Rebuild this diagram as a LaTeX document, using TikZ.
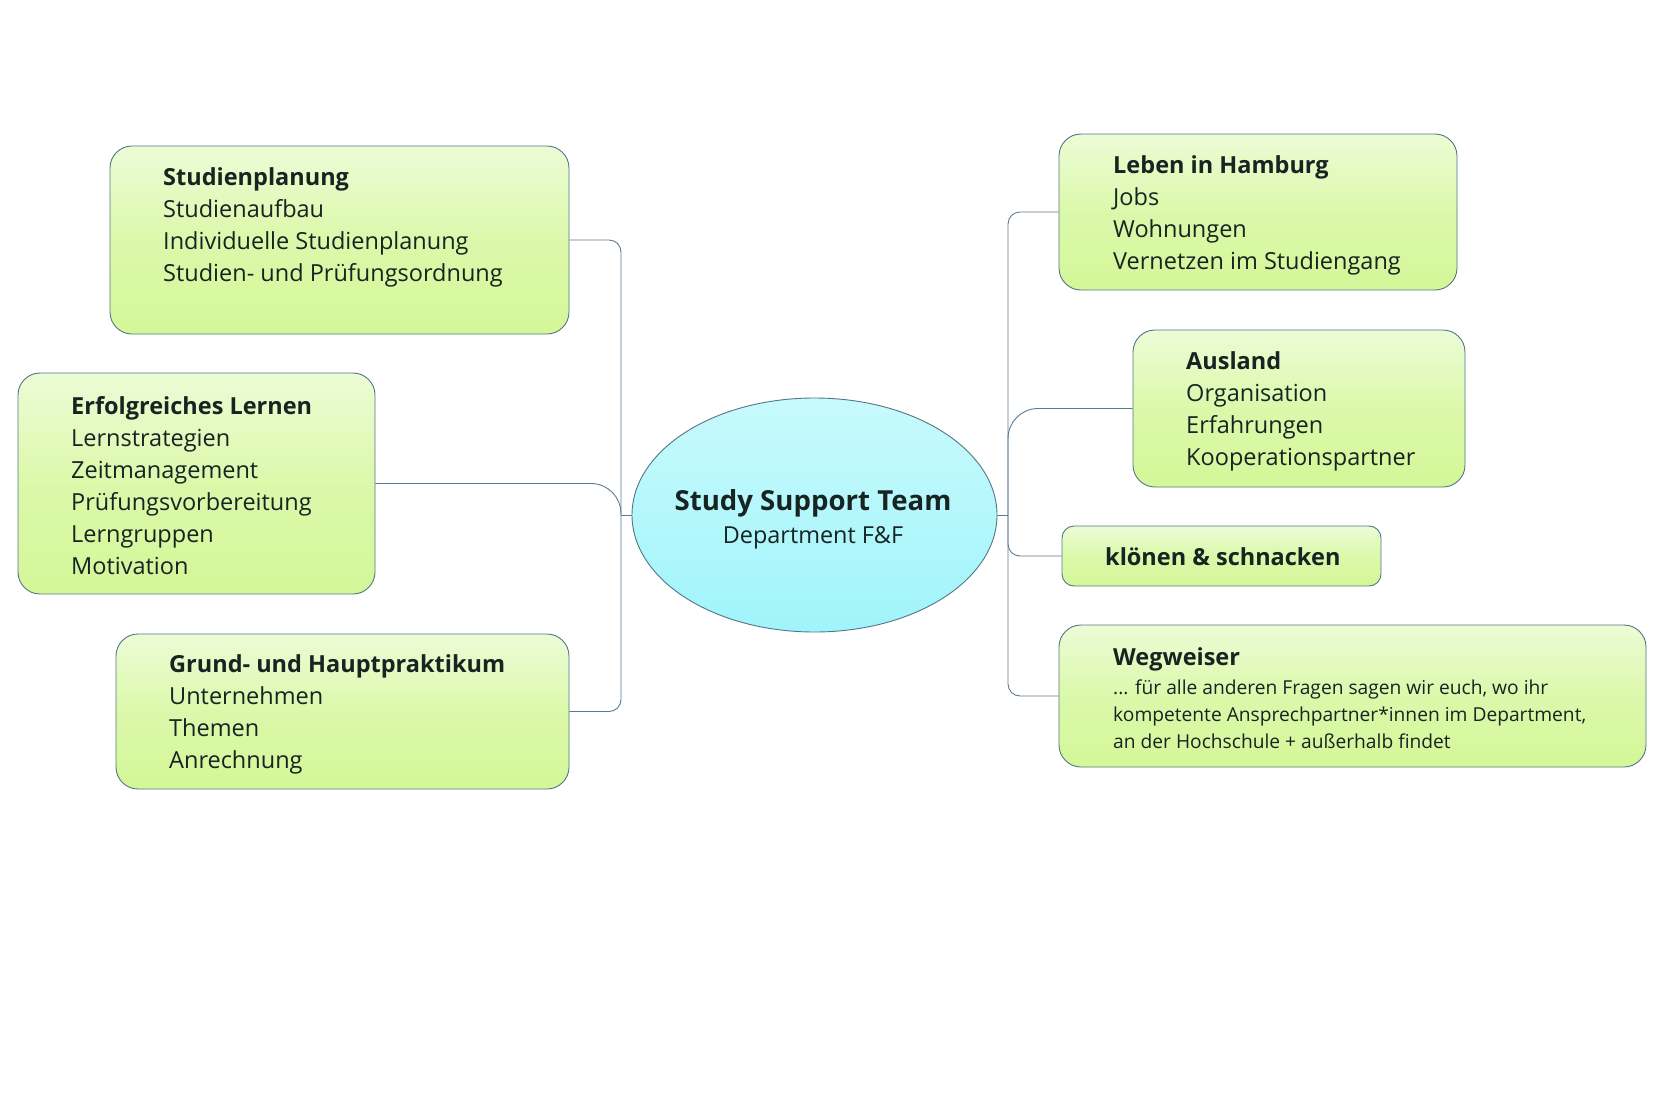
\documentclass[tikz,border=0pt]{standalone}
\usepackage{fontspec}
\setmainfont{Open Sans}
\usetikzlibrary{shapes.geometric}
\definecolor{boxborder}{RGB}{84,118,132}
\definecolor{linecol}{RGB}{90,122,146}
\definecolor{boxtop}{RGB}{236,252,214}
\definecolor{boxbot}{RGB}{212,247,152}
\definecolor{eltop}{RGB}{200,250,252}
\definecolor{elbot}{RGB}{160,244,251}
\definecolor{txtcol}{RGB}{22,36,34}
\tikzset{
  box/.style={draw=boxborder, line width=0.9pt, rounded corners=22pt,
    top color=boxtop, bottom color=boxbot, middle color=boxbot!70!boxtop,
    inner sep=0pt},
  txt/.style={anchor=north west, align=left, inner sep=0pt, text=txtcol,
    font=\fontsize{23.5}{32.1}\selectfont},
  small/.style={anchor=north west, align=left, inner sep=0pt, text=txtcol,
    font=\fontsize{19.2}{26.9}\selectfont},
  conn/.style={draw=linecol, line width=0.9pt},
}
\begin{document}
\begin{tikzpicture}[x=1pt,y=-1pt]
\useasboundingbox (0,0) rectangle (1659,1106);

% boxes
\node[box, minimum width=459pt, minimum height=188pt] (sp) at (339.5,240) {};
\node[box, minimum width=357pt, minimum height=221pt] (el) at (196.5,483.5) {};
\node[box, minimum width=453pt, minimum height=155pt] (gh) at (342.5,711.5) {};
\node[ellipse, draw=boxborder, line width=0.9pt, top color=eltop, bottom color=elbot,
      minimum width=365pt, minimum height=234pt, inner sep=0pt]
  (center) at (814.5,515) {};
\node[box, minimum width=398pt, minimum height=156pt] (lh) at (1258,212) {};
\node[box, minimum width=332pt, minimum height=157pt] (au) at (1299,408.5) {};
\node[box, minimum width=319pt, minimum height=60pt, rounded corners=12pt] (kl) at (1221.5,556) {};
\node[box, minimum width=587pt, minimum height=142pt] (ww) at (1352.5,696) {};

% texts
\node[anchor=base, inner sep=0pt, text=txtcol, font=\fontsize{27.6}{34}\selectfont\bfseries]
  (ctitle) at (813,510) {Study Support Team};
\node[anchor=base, inner sep=0pt, text=txtcol, font=\fontsize{23.4}{30}\selectfont]
  (csub) at (813,543) {Department F\&F};
\node[txt] (sptxt) at (163,167.5) {\textbf{Studienplanung}\\Studienaufbau\\Individuelle Studienplanung\\Studien- und Prüfungsordnung};
\node[txt] (eltxt) at (71,396) {\textbf{Erfolgreiches Lernen}\\Lernstrategien\\Zeitmanagement\\Prüfungsvorbereitung\\Lerngruppen\\Motivation};
\node[txt] (ghtxt) at (169,654.5) {\textbf{Grund- und Hauptpraktikum}\\Unternehmen\\Themen\\Anrechnung};
\node[txt] (lhtxt) at (1113,155.5) {\textbf{Leben in Hamburg}\\Jobs\\Wohnungen\\Vernetzen im Studiengang};
\node[txt] (autxt) at (1186,351.5) {\textbf{Ausland}\\Organisation\\Erfahrungen\\Kooperationspartner};
\node[txt] (kltxt) at (1105,547) {\textbf{klönen \& schnacken}};
\node[txt] (wwtitle) at (1113,647) {\textbf{Wegweiser}};
\node[small] (wwtxt) at (1113,680) {... für alle anderen Fragen sagen wir euch, wo ihr\\kompetente Ansprechpartner*innen im Department,\\an der Hochschule + außerhalb findet};

% junction coordinates
\coordinate (lj) at (621,515);
\coordinate (rj) at (1008,515);

% left connectors
\draw[conn] (center.west) -- (lj);
\draw[conn, rounded corners=12pt] (sp.east) -| (lj);
\draw[conn, rounded corners=12pt] (gh.east) -| (lj);
\draw[conn, rounded corners=30pt] (el.east) -| (lj);

% right connectors
\draw[conn] (center.east) -- (rj);
\draw[conn, rounded corners=12pt] (rj) |- (lh.west);
\draw[conn, rounded corners=30pt] (rj) |- (au.west);
\draw[conn, rounded corners=12pt] (rj) |- (kl.west);
\draw[conn, rounded corners=12pt] (rj) |- (ww.west);
\end{tikzpicture}
\end{document}
